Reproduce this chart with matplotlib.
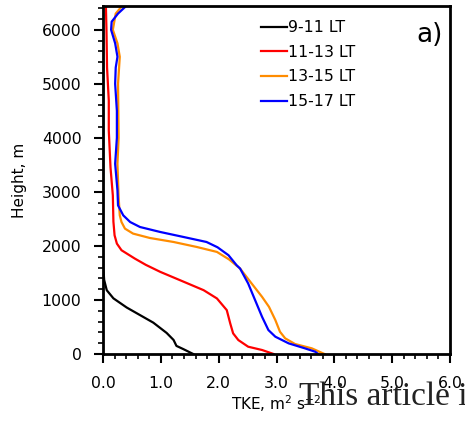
import numpy as np
import matplotlib
matplotlib.use("Agg")
import matplotlib.pyplot as plt

plt.rcParams['font.family'] = ['DejaVu Sans']

# profiles: height (m) and TKE (m2 s-2)
h_0911 = [0, 90, 150, 260, 390, 580, 720, 860, 1030, 1180, 1370, 1600, 2000, 6440]
tke_0911 = [1.56, 1.39, 1.27, 1.22, 1.10, 0.87, 0.64, 0.41, 0.18, 0.065, 0.02, 0.005, 0.0, 0.0]

h_1113 = [0, 74, 135, 258, 382, 566, 812, 1028, 1181, 1335, 1520, 1650, 1766, 1920,
          2043, 2197, 2450, 2935, 3450, 4135, 4690, 5300, 6000, 6440]
tke_1113 = [2.95, 2.75, 2.51, 2.34, 2.25, 2.20, 2.14, 1.97, 1.74, 1.40, 0.99, 0.74, 0.55, 0.32,
            0.24, 0.20, 0.18, 0.17, 0.13, 0.10, 0.10, 0.07, 0.06, 0.05]

h_1315 = [0, 105, 185, 290, 412, 628, 873, 1058, 1305, 1582, 1750, 1889, 1981, 2073,
          2147, 2228, 2320, 2442, 2566, 2904, 3520, 4000, 5000, 5500, 5750, 6000,
          6300, 6440]
tke_1315 = [3.83, 3.61, 3.32, 3.15, 3.06, 2.98, 2.87, 2.75, 2.57, 2.37, 2.18, 1.97, 1.62, 1.22,
            0.81, 0.52, 0.38, 0.32, 0.29, 0.27, 0.25, 0.27, 0.26, 0.29, 0.25, 0.17,
            0.22, 0.33]

h_1517 = [0, 42, 105, 197, 320, 443, 689, 997, 1305, 1582, 1643, 1828, 1975, 2073,
          2166, 2258, 2350, 2442, 2566, 2750, 3028, 3520, 4000, 4500, 5000, 5300,
          5500, 5750, 6000, 6150, 6300, 6440]
tke_1517 = [3.72, 3.67, 3.49, 3.21, 2.98, 2.86, 2.75, 2.63, 2.51, 2.37, 2.31, 2.17, 1.98, 1.79,
            1.39, 0.99, 0.64, 0.47, 0.35, 0.26, 0.25, 0.21, 0.24, 0.24, 0.21, 0.22,
            0.25, 0.21, 0.14, 0.15, 0.26, 0.40]

labels = ['9-11 LT', '11-13 LT', '13-15 LT', '15-17 LT']
colors = ['black', 'red', 'darkorange', 'blue']

xticks = [0.0, 1.0, 2.0, 3.0, 4.0, 5.0, 6.0]
yticks = [0, 1000, 2000, 3000, 4000, 5000, 6000]

fig = plt.figure(figsize=(4.65, 4.24), dpi=100)
ax = fig.add_axes([103/465, 70/424, 347/465, 348/424])

series = [(tke_0911, h_0911), (tke_1113, h_1113), (tke_1315, h_1315), (tke_1517, h_1517)]
for (x, y), lab, col in zip(series, labels, colors):
    ax.plot(x, y, color=col, lw=1.6, label=lab, solid_joinstyle='round')

ax.set_xlim(0, 6.0)
ax.set_ylim(0, 6440)
ax.set_xticks(xticks)
ax.set_xticklabels(["%.1f" % v for v in xticks])
ax.set_yticks(yticks)
ax.set_xticks(np.arange(0, 6.01, 0.2), minor=True)
ax.set_yticks(np.arange(0, 6441, 200), minor=True)
ax.tick_params(which='major', direction='out', length=6.5, width=1.5, labelsize=11.3, pad=9)
ax.tick_params(which='minor', direction='out', length=3.3, width=1.2)
ax.tick_params(top=False, right=False)
for s in ax.spines.values():
    s.set_linewidth(2)

ax.set_xlabel('TKE, m$^2$ s$^{-2}$', fontsize=11)
ax.set_ylabel('Height, m', fontsize=11)
ax.xaxis.set_label_coords(0.5, -(393 - 354) / 348)
ax.yaxis.set_label_coords(-(103 - 27) / 347, 0.5)

ax.text(0.978, 0.955, 'a)', transform=ax.transAxes, ha='right', va='top', fontsize=19)

ax.legend(loc='upper left', bbox_to_anchor=(261/465, 1 - 20/424), bbox_transform=fig.transFigure,
          frameon=False, fontsize=11.3, handlelength=1.65, handletextpad=0.05,
          labelspacing=0.62, borderpad=0, borderaxespad=0)

fig.text(299/465, 19/424, 'This article is', fontsize=24, family='Liberation Serif',
         color='#222222', va='baseline')

fig.savefig('out.png', dpi=100)
